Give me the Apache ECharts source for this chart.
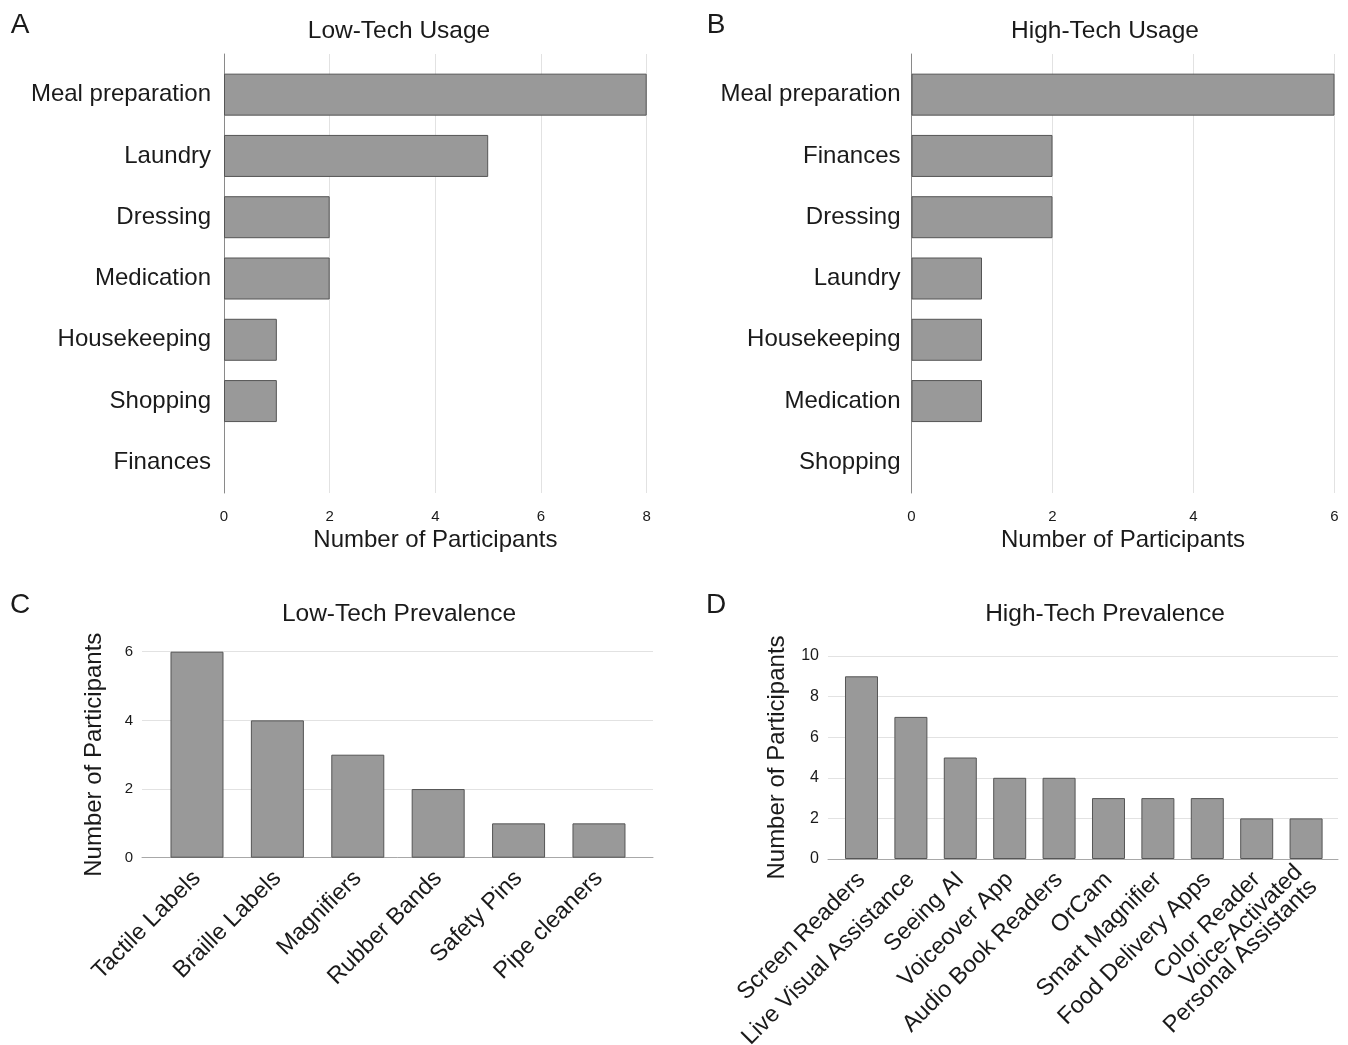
<!DOCTYPE html>
<html>
<head>
<meta charset="utf-8">
<title>Assistive technology usage and prevalence</title>
<script src="https://cdn.jsdelivr.net/npm/echarts@6/dist/echarts.min.js"></script>
<style>
  html, body { margin: 0; padding: 0; background: #fff; }
  #chart { width: 1348px; height: 1045px; }
</style>
</head>
<body>
<div id="chart"></div>
<script>
// panel A - low-tech usage
var lowUseCats = ['Meal preparation', 'Laundry', 'Dressing', 'Medication', 'Housekeeping', 'Shopping', 'Finances'];
var lowUseVals = [8, 5, 2, 2, 1, 1, 0];

// panel B - high-tech usage
var highUseCats = ['Meal preparation', 'Finances', 'Dressing', 'Laundry', 'Housekeeping', 'Medication', 'Shopping'];
var highUseVals = [6, 2, 2, 1, 1, 1, 0];

// panel C - low-tech prevalence
var lowPrevCats = ['Tactile Labels', 'Braille Labels', 'Magnifiers', 'Rubber Bands', 'Safety Pins', 'Pipe cleaners'];
var lowPrevVals = [6, 4, 3, 2, 1, 1];

// panel D - high-tech prevalence
var highPrevCats = ['Screen Readers', 'Live Visual Assistance', 'Seeing AI', 'Voiceover App', 'Audio Book Readers',
  'OrCam', 'Smart Magnifier', 'Food Delivery Apps', 'Color Reader', 'Voice-Activated\nPersonal Assistants'];
var highPrevVals = [9, 7, 5, 4, 4, 3, 3, 3, 2, 2];

var FONT = '"Liberation Sans", Arial, sans-serif';
var TEXT = '#1a1a1a';
var GRIDLINE = '#e2e2e2';
var barStyle = { color: '#999999', borderColor: '#555555', borderWidth: 1 };

var grid = [], xAxis = [], yAxis = [], series = [];

// zero-length bars would still show their border, so drop it there
var barItem = v => v === 0 ? { value: v, itemStyle: { borderWidth: 0 } } : v;

// horizontal panels (A, B): a background grid carries the gridlines/axis line,
// the bar grid sits inside it so the bands line up with the picture
function hPanel(p) {
  var bg = grid.length;
  grid.push({ left: p.left, top: 54, width: p.width, height: 439, outerBoundsMode: 'none' });
  grid.push({ left: p.left, top: 64, width: p.width, height: 429, outerBoundsMode: 'none' });

  xAxis.push({
    gridIndex: bg, type: 'value', min: 0, max: p.max, interval: 2,
    axisLine: { show: false }, axisTick: { show: false },
    axisLabel: { fontSize: 15, color: TEXT, margin: 16, fontFamily: FONT },
    splitLine: { lineStyle: { color: GRIDLINE } },
    name: 'Number of Participants', nameLocation: 'middle', nameGap: 35,
    nameTextStyle: { fontSize: 24, color: TEXT, fontFamily: FONT }
  });
  yAxis.push({
    gridIndex: bg, type: 'value', min: 0, max: 1,
    axisLine: { show: true, lineStyle: { color: '#8a8a8a' } },
    axisTick: { show: false }, axisLabel: { show: false }, splitLine: { show: false }
  });
  xAxis.push({ gridIndex: bg + 1, type: 'value', min: 0, max: p.max, show: false });
  yAxis.push({
    gridIndex: bg + 1, type: 'category', inverse: true, data: p.cats,
    axisLine: { show: false }, axisTick: { show: false },
    axisLabel: { fontSize: 24, color: TEXT, margin: p.labelMargin, fontFamily: FONT }
  });
  series.push({
    type: 'bar', xAxisIndex: bg + 1, yAxisIndex: bg + 1,
    data: p.vals.map(barItem), barWidth: 42, itemStyle: barStyle
  });
}

// vertical panels (C, D): value x axis so the outer padding matches the picture
function vPanel(p) {
  var gi = grid.length;
  grid.push({ left: p.left, top: p.top, width: p.width, height: p.height, outerBoundsMode: 'none' });
  xAxis.push({
    gridIndex: gi, type: 'value', min: p.xmin, max: p.xmax,
    axisLine: { show: true, lineStyle: { color: '#a8a8a8' } },
    axisTick: { show: false }, splitLine: { show: false },
    axisLabel: {
      customValues: p.cats.map((c, i) => i),
      formatter: v => p.cats[v],
      hideOverlap: false,
      rotate: 45, fontSize: 23.5, color: TEXT, margin: 17, fontFamily: FONT, lineHeight: 21
    }
  });
  yAxis.push({
    gridIndex: gi, type: 'value', min: 0, max: p.max, interval: 2,
    axisLine: { show: false }, axisTick: { show: false },
    axisLabel: { fontSize: p.tickSize, color: TEXT, margin: 9, fontFamily: FONT },
    splitLine: { lineStyle: { color: GRIDLINE } },
    name: 'Number of Participants', nameLocation: 'middle', nameRotate: 90, nameGap: p.nameGap,
    nameTextStyle: { fontSize: 24, color: TEXT, fontFamily: FONT }
  });
  series.push({
    type: 'bar', xAxisIndex: gi, yAxisIndex: gi,
    data: p.vals.map((v, i) => [i, v]), barWidth: p.barWidth, itemStyle: barStyle
  });
}

hPanel({ cats: lowUseCats, vals: lowUseVals, max: 8, left: 224, width: 422.7, labelMargin: 13 });
hPanel({ cats: highUseCats, vals: highUseVals, max: 6, left: 911.5, width: 423, labelMargin: 11 });
vPanel({
  cats: lowPrevCats, vals: lowPrevVals, max: 6, left: 142, top: 651.7, width: 511, height: 206,
  xmin: -0.684, xmax: 5.672, barWidth: 53, tickSize: 15, nameGap: 36
});
vPanel({
  cats: highPrevCats, vals: highPrevVals, max: 10, left: 828, top: 656, width: 510, height: 203,
  xmin: -0.678, xmax: 9.646, barWidth: 33, tickSize: 16, nameGap: 39
});

// panel letters and titles
function label(text, x, y, size) {
  return {
    type: 'text', x: x, y: y,
    style: { text: text, fontSize: size, fill: TEXT, fontFamily: FONT, align: 'center', verticalAlign: 'middle' }
  };
}
var graphic = [
  label('A', 20, 25, 28), label('B', 716, 25, 28), label('C', 20, 605, 28), label('D', 716, 605, 28),
  label('Low-Tech Usage', 399, 31, 24.5), label('High-Tech Usage', 1105, 31, 24.5),
  label('Low-Tech Prevalence', 399, 614, 24.5), label('High-Tech Prevalence', 1105, 614, 24.5)
];

var chart = echarts.init(document.getElementById('chart'));
chart.setOption({
  backgroundColor: '#fff',
  animation: false,
  textStyle: { fontFamily: FONT },
  grid, xAxis, yAxis, series, graphic
});
</script>
</body>
</html>
